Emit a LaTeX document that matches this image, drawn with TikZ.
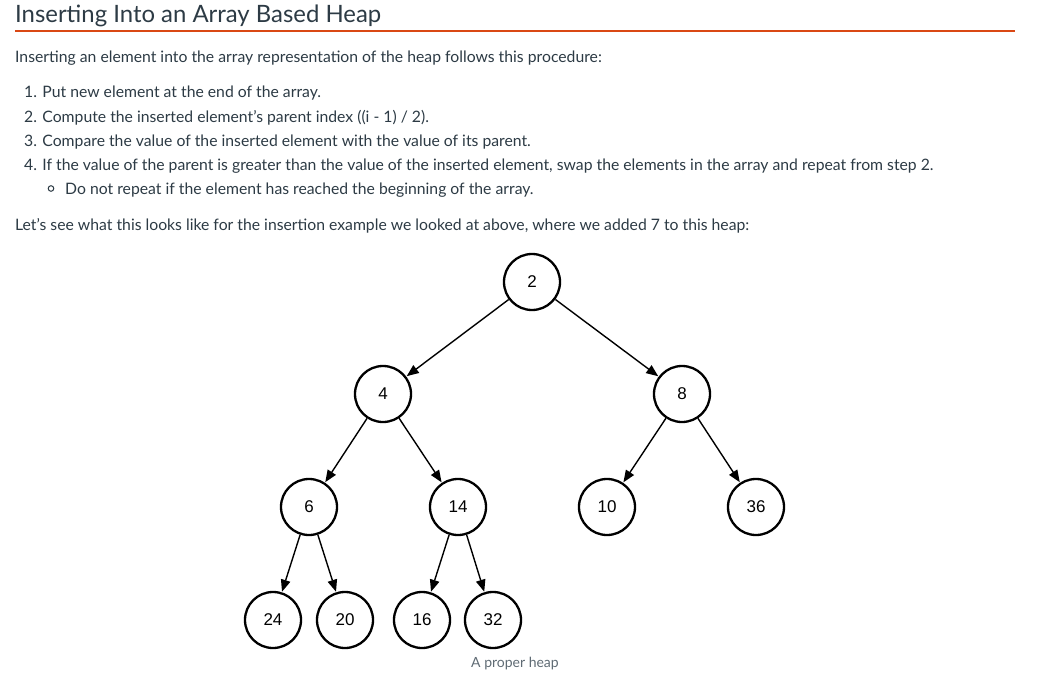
\documentclass[tikz,border=0pt]{standalone}
\usepackage{fontspec}
\setmainfont{Lato}
\newfontfamily\arialf{Liberation Sans}
\usetikzlibrary{arrows.meta}
\definecolor{txt}{HTML}{2D3B45}
\definecolor{capc}{HTML}{5F6B74}
\definecolor{rulec}{RGB}{218,72,20}
\tikzset{
  heapnode/.style={circle,draw=black,line width=2.3pt,minimum size=56pt,inner sep=0pt,font=\arialf\fontsize{17}{19}\selectfont},
  edge/.style={line width=1.4pt,-{Triangle[length=12pt,width=9.5pt]},shorten >=0.5pt},
  bodytext/.style={anchor=base west,inner sep=0pt,text=txt,font=\fontsize{15.75}{18}\selectfont},
}
\begin{document}
\begin{tikzpicture}[x=1pt,y=-1pt]
\useasboundingbox[fill=white] (0,0) rectangle (1050,677);
% title
\node[anchor=base west,inner sep=0pt,text=txt,font=\fontsize{23.9}{28}\selectfont] (title) at (15,23) {Inserting Into an Array Based Heap};
\draw[rulec,line width=2pt] (15,31) -- (1015,31);
% body
\node[bodytext] (p1) at (15,62.5) {Inserting an element into the array representation of the heap follows this procedure:};
\node[bodytext] (l1) at (24,98) {1. Put new element at the end of the array.};
\node[bodytext] (l2) at (24,122) {2. Compute the inserted element’s parent index ((i - 1) / 2).};
\node[bodytext] (l3) at (24,146) {3. Compare the value of the inserted element with the value of its parent.};
\node[bodytext] (l4) at (24,170) {4. If the value of the parent is greater than the value of the inserted element, swap the elements in the array and repeat from step 2.};
\draw[txt,line width=1pt] (51,188.5) circle (2.8);
\node[bodytext] (l5) at (65,194) {Do not repeat if the element has reached the beginning of the array.};
\node[bodytext] (p2) at (15,230) {Let’s see what this looks like for the insertion example we looked at above, where we added 7 to this heap:};
% heap
\node[heapnode] (n2) at (532,282) {2};
\node[heapnode] (n4) at (383,394) {4};
\node[heapnode] (n8) at (682,394) {8};
\node[heapnode] (n6) at (309,507) {6};
\node[heapnode] (n14) at (458,507) {14};
\node[heapnode] (n10) at (607,507) {10};
\node[heapnode] (n36) at (756,507) {36};
\node[heapnode] (n24) at (273,620) {24};
\node[heapnode] (n20) at (345,620) {20};
\node[heapnode] (n16) at (422,620) {16};
\node[heapnode] (n32) at (493,620) {32};
\draw[edge] (n2) -- (n4);
\draw[edge] (n2) -- (n8);
\draw[edge] (n4) -- (n6);
\draw[edge] (n4) -- (n14);
\draw[edge] (n8) -- (n10);
\draw[edge] (n8) -- (n36);
\draw[edge] (n6) -- (n24);
\draw[edge] (n6) -- (n20);
\draw[edge] (n14) -- (n16);
\draw[edge] (n14) -- (n32);
\node[anchor=base,inner sep=0pt,text=capc,font=\fontsize{14}{16}\selectfont] (cap) at (515,667.5) {A proper heap};
\end{tikzpicture}
\end{document}
